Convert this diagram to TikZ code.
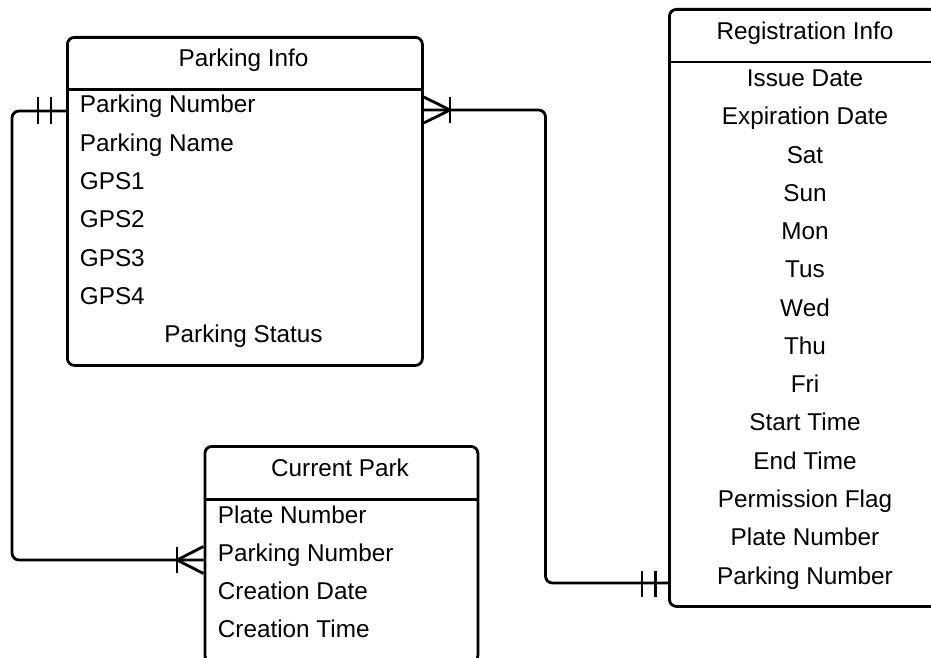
\documentclass[tikz,border=0pt]{standalone}
\usepackage{fontspec}
\setmainfont{Liberation Sans}
\begin{document}
\begin{tikzpicture}[x=1pt,y=-1pt,
  line width=2.8pt,
  entity/.style={draw=black, rounded corners=7pt, line width=2.8pt, inner sep=0pt, anchor=north west},
  divider/.style={draw=black, line width=2.8pt},
  lbl/.style={font=\fontsize{24.3}{29}\selectfont, inner sep=0pt, text=black},
  conn/.style={draw=black, line width=2.8pt, rounded corners=7pt},
  tick/.style={draw=black, line width=2.8pt}]
\useasboundingbox (0,0) rectangle (931,658);

% ---------- Parking Info ----------
\node[entity, minimum width=355pt, minimum height=328pt] (pinfo) at (66,36) {};
\draw[divider] (pinfo.west |- 0,89.5) -- (pinfo.east |- 0,89.5);
\node[lbl, anchor=base] (pinfoT) at (243.5,67) {Parking Info};
\node[lbl, anchor=base west] (pi1) at (78.5,113) {Parking Number};
\node[lbl, anchor=base west] (pi2) at (78.5,151.3) {Parking Name};
\node[lbl, anchor=base west] (pi3) at (78.5,189.5) {GPS1};
\node[lbl, anchor=base west] (pi4) at (78.5,227.8) {GPS2};
\node[lbl, anchor=base west] (pi5) at (78.5,266.1) {GPS3};
\node[lbl, anchor=base west] (pi6) at (78.5,304.4) {GPS4};
\node[lbl, anchor=base] (pi7) at (243.5,342.6) {Parking Status};

% ---------- Current Park ----------
\node[entity, minimum width=273pt, minimum height=216pt] (cpark) at (203.5,445) {};
\draw[divider] (cpark.west |- 0,499.5) -- (cpark.east |- 0,499.5);
\node[lbl, anchor=base] (cparkT) at (340,476) {Current Park};
\node[lbl, anchor=base west] (cp1) at (216.5,523) {Plate Number};
\node[lbl, anchor=base west] (cp2) at (216.5,561.3) {Parking Number};
\node[lbl, anchor=base west] (cp3) at (216.5,599.5) {Creation Date};
\node[lbl, anchor=base west] (cp4) at (216.5,637.8) {Creation Time};

% ---------- Registration Info ----------
\node[entity, minimum width=274pt, minimum height=597pt] (reg) at (668,8) {};
\draw[divider] (reg.west |- 0,62) -- (reg.east |- 0,62);
\node[lbl, anchor=base] (regT) at (805,39.5) {Registration Info};
\foreach \t [count=\i from 0] in {Issue Date,Expiration Date,Sat,Sun,Mon,Tus,Wed,Thu,Fri,Start Time,End Time,Permission Flag,Plate Number,Parking Number}{
  \node[lbl, anchor=base] (r\i) at (805,{86.5+38.27*\i}) {\t};
}

% ---------- Connector: Parking Info (one) -- Current Park (many) ----------
\draw[conn] (pinfo.west |- 0,111) -- (12,111) -- (12,560) -- (cpark.west |- 0,560);
\draw[tick] (38,97) -- (38,124);
\draw[tick] (51,97) -- (51,124);
\draw[tick] (cpark.west |- 0,546.5) -- (177,560) -- (cpark.west |- 0,573.5);
\draw[tick] (177,547) -- (177,573);

% ---------- Connector: Parking Info (many) -- Registration Info (one) ----------
\draw[conn] (pinfo.east |- 0,110) -- (545.5,110) -- (545.5,583) -- (reg.west |- 0,583);
\draw[tick] (pinfo.east |- 0,97) -- (450,110) -- (pinfo.east |- 0,123);
\draw[tick] (450,97) -- (450,123);
\draw[tick] (642,571) -- (642,597);
\draw[tick] (655.5,571) -- (655.5,597);
\end{tikzpicture}
\end{document}
